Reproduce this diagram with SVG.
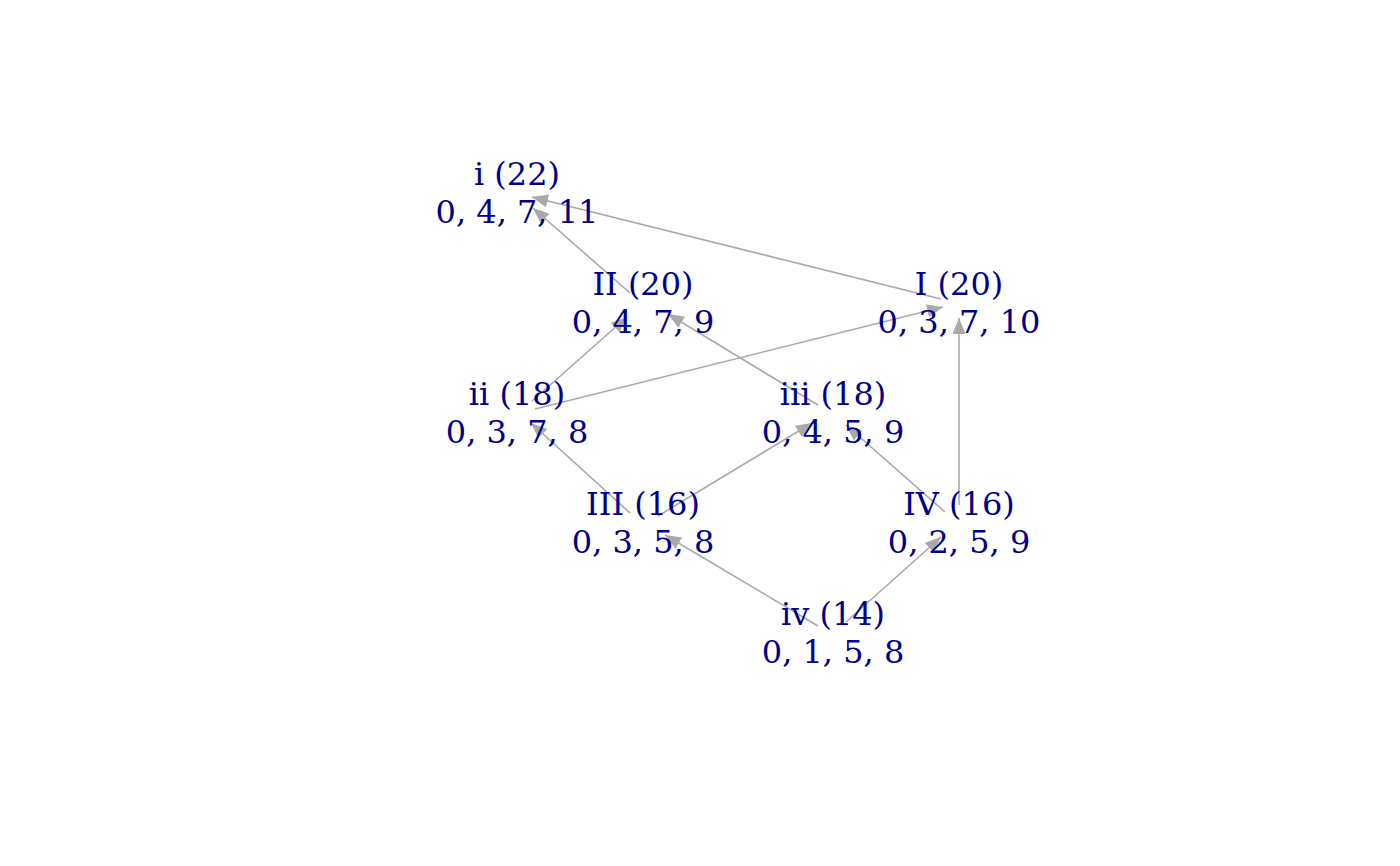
<svg xmlns="http://www.w3.org/2000/svg" width="1400" height="866" viewBox="0 0 1400 866">
<style>
.lbl{font-family:"DejaVu Serif","Liberation Serif",serif;font-size:32px;fill:#00008B;text-anchor:middle}
.e{stroke:#A9A9A9;stroke-width:1.6;fill:none;marker-end:url(#ah)}
</style>
<defs>
<marker id="ah" markerUnits="userSpaceOnUse" viewBox="0 0 16 13" refX="16" refY="6.5" markerWidth="16" markerHeight="13" orient="auto">
<path d="M0,0 L16,6.5 L0,13 Z" fill="#A9A9A9"/>
</marker>
</defs>
<rect width="1400" height="866" fill="#fff"/>
<g id="edges">
<line class="e" x1="941" y1="299" x2="532" y2="197"/>
<line class="e" x1="630" y1="293" x2="533" y2="208"/>
<line class="e" x1="532" y1="401" x2="627" y2="317"/>
<line class="e" x1="535" y1="409" x2="943" y2="307"/>
<line class="e" x1="818" y1="405" x2="668" y2="314"/>
<line class="e" x1="630" y1="513" x2="531" y2="423"/>
<line class="e" x1="658" y1="516" x2="812" y2="423"/>
<line class="e" x1="945" y1="512" x2="846" y2="425"/>
<line class="e" x1="959" y1="505" x2="959" y2="318"/>
<line class="e" x1="818" y1="626" x2="665" y2="535"/>
<line class="e" x1="846" y1="622" x2="941" y2="537"/>
</g>
<g id="node-i"><text class="lbl" x="517" y="185">i (22)</text><text class="lbl" x="517" y="223">0, 4, 7, 11</text></g>
<g id="node-II"><text class="lbl" x="643" y="295">II (20)</text><text class="lbl" x="643" y="333">0, 4, 7, 9</text></g>
<g id="node-I"><text class="lbl" x="959" y="295">I (20)</text><text class="lbl" x="959" y="333">0, 3, 7, 10</text></g>
<g id="node-ii"><text class="lbl" x="517" y="405">ii (18)</text><text class="lbl" x="517" y="443">0, 3, 7, 8</text></g>
<g id="node-iii"><text class="lbl" x="833" y="405">iii (18)</text><text class="lbl" x="833" y="443">0, 4, 5, 9</text></g>
<g id="node-III"><text class="lbl" x="643" y="515">III (16)</text><text class="lbl" x="643" y="553">0, 3, 5, 8</text></g>
<g id="node-IV"><text class="lbl" x="959" y="515">IV (16)</text><text class="lbl" x="959" y="553">0, 2, 5, 9</text></g>
<g id="node-iv"><text class="lbl" x="833" y="625">iv (14)</text><text class="lbl" x="833" y="663">0, 1, 5, 8</text></g>
</svg>
